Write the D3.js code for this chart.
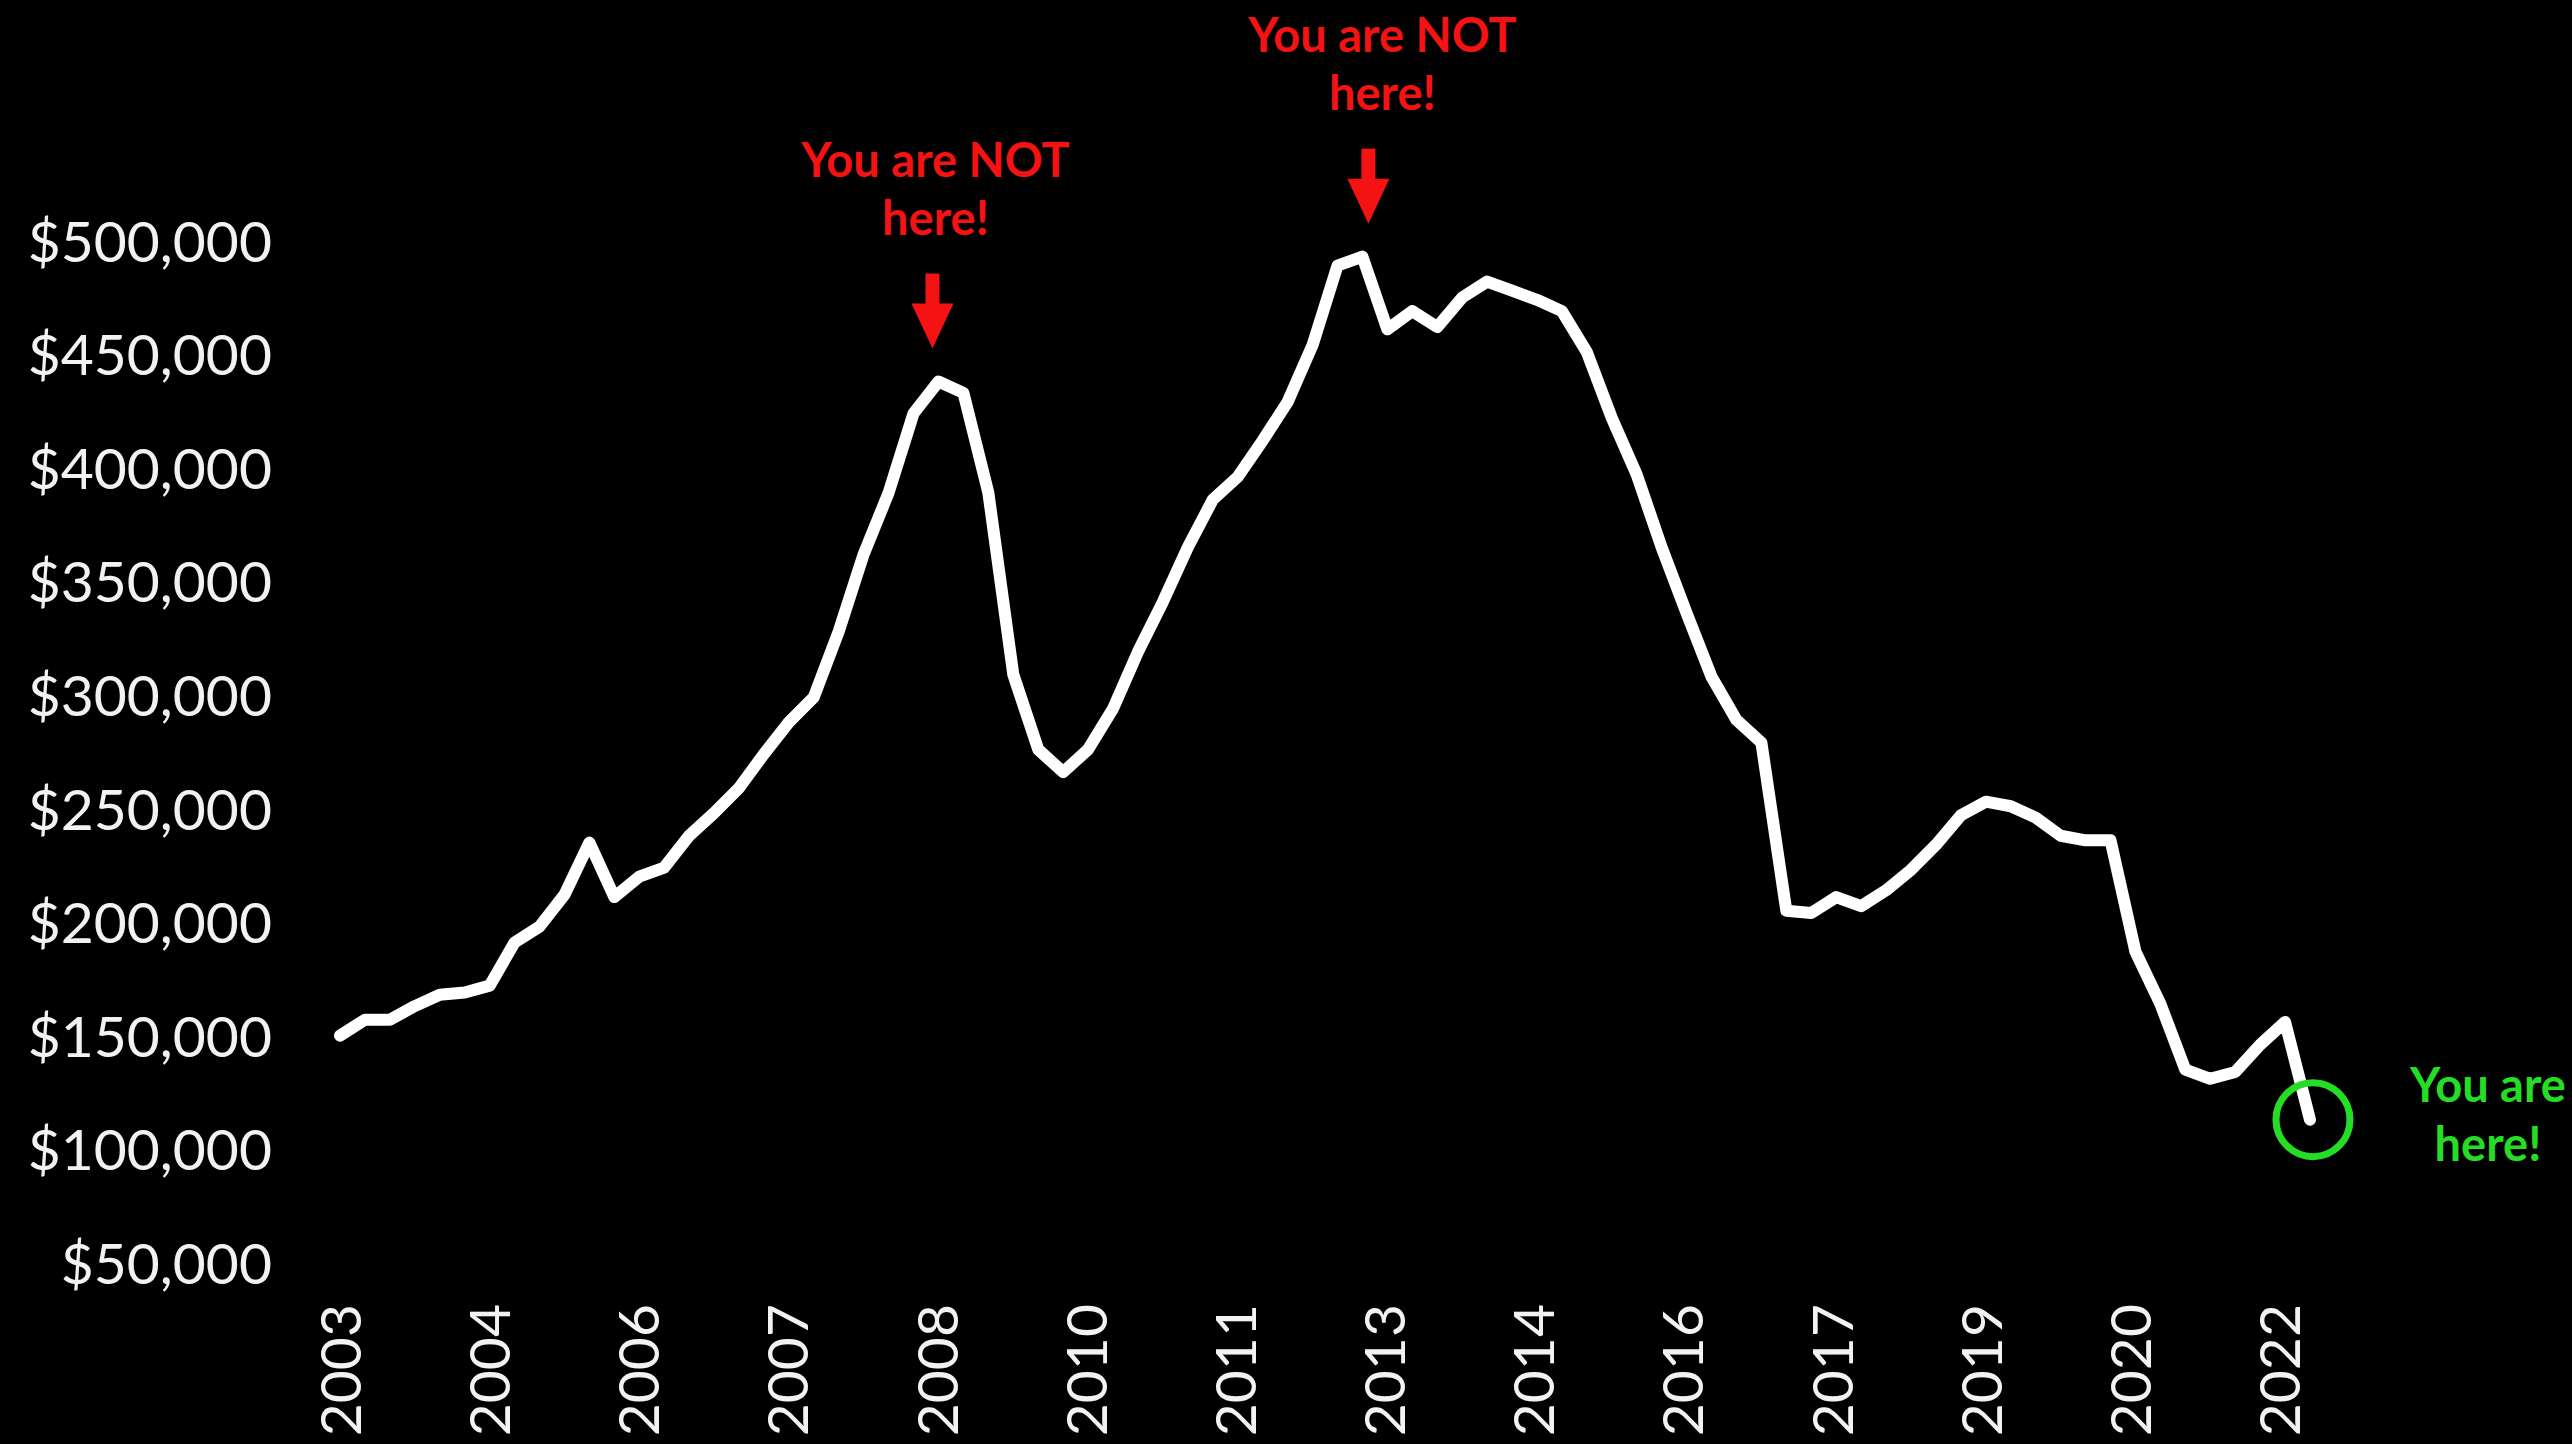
<!DOCTYPE html>
<html>
<head>
<meta charset="utf-8">
<script src="https://cdn.jsdelivr.net/npm/d3@7"></script>
<style>
  body { margin: 0; background: #000; }
  svg { display: block; }
</style>
</head>
<body>
<svg></svg>
<script>
// price for each period
const prices = [
  151000, 158000, 158000, 164000, 169000, 170000, 173000, 192000, 199000, 213000,
  236000, 212000, 221000, 225000, 239000, 249000, 260000, 275000, 289000, 300000,
  329000, 363000, 390000, 425000, 439000, 434000, 390000, 310000, 277000, 267000,
  277000, 295000, 320000, 342000, 366000, 387000, 397000, 413000, 430000, 455000,
  490000, 494000, 462000, 470000, 463000, 476000, 483000, 479000, 475000, 470000,
  452000, 423000, 398000, 366000, 337000, 309000, 290000, 280000, 206000, 205000,
  212000, 208000, 215000, 224000, 235000, 248000, 254000, 252000, 247000, 239000,
  237000, 237000, 188000, 165000, 136000, 132000, 135000, 147000, 157000, 114000
];

// year labels along the bottom, evenly spaced
const tickLabels = ["2003", "2004", "2006", "2007", "2008", "2010", "2011",
  "2013", "2014", "2016", "2017", "2019", "2020", "2022"];
const yTicks = [50000, 100000, 150000, 200000, 250000, 300000, 350000, 400000, 450000, 500000];

// callouts
const notHerePoints = [24, 41];
const notHereText = ["You are NOT", "here!"];
const hereText = ["You are", "here!"];

const w = 2572;
const h = 1444;
const margin = { top: 243, bottom: 179, left: 340, right: 262 };

const svg = d3.select("svg").attr("width", w).attr("height", h)
  .style("background", "#000");

const xScale = d3.scalePoint()
  .domain(d3.range(prices.length))
  .range([margin.left, w - margin.right]);

// labels sit on their own even spacing (last one a bit left of its point)
const labelScale = d3.scalePoint()
  .domain(tickLabels)
  .range([margin.left, 2279]);

const yScale = d3.scaleLinear()
  .domain([50000, 500000])
  .range([h - margin.bottom, margin.top]);

// y axis, labels only
const yAxis = svg.append("g")
  .attr("transform", "translate(282, 0)")
  .call(d3.axisLeft(yScale)
    .tickValues(yTicks)
    .tickFormat(d3.format("$,"))
    .tickSize(0)
    .tickPadding(10));
yAxis.select(".domain").remove();
yAxis.selectAll("text")
  .attr("fill", "#f2f2f2")
  .style("font-family", "Lato, sans-serif")
  .style("font-size", "57px");

// x axis, rotated year labels
const xAxis = svg.append("g")
  .attr("transform", "translate(0, 1304)")
  .call(d3.axisBottom(labelScale).tickSize(0));
xAxis.select(".domain").remove();
xAxis.selectAll("text")
  .attr("transform", "rotate(-90)")
  .attr("x", 0)
  .attr("y", 0)
  .attr("dy", "0.36em")
  .attr("text-anchor", "end")
  .attr("fill", "#f2f2f2")
  .style("font-family", "Lato, sans-serif")
  .style("font-size", "57px");

// the price line
const line = d3.line()
  .x((d, i) => xScale(i))
  .y(d => yScale(d));

svg.append("path")
  .datum(prices)
  .attr("d", line)
  .attr("fill", "none")
  .attr("stroke", "#fff")
  .attr("stroke-width", 12)
  .attr("stroke-linejoin", "round")
  .attr("stroke-linecap", "round");

// red arrows over the two peaks (hand placed, so nudged a little)
const red = "#f41212";
const gap = 33;
const shaftLen = 30;
const headLen = 45;
const arrowNudge = [-6, 6];
const textNudge = [3, 14];

notHerePoints.forEach((p, k) => {
  const x = xScale(p) + arrowNudge[k];
  const tip = yScale(prices[p]) - gap;
  const top = tip - headLen - shaftLen;
  const g = svg.append("g");
  g.append("rect")
    .attr("x", x - 7)
    .attr("y", top)
    .attr("width", 14)
    .attr("height", shaftLen + 2)
    .attr("fill", red);
  g.append("path")
    .attr("d", `M${x - 21},${tip - headLen} L${x + 21},${tip - headLen} L${x},${tip} Z`)
    .attr("fill", red);
  g.selectAll("text")
    .data(notHereText)
    .enter()
    .append("text")
    .attr("x", x + textNudge[k])
    .attr("y", (d, i) => top - 39 - (1 - i) * 58)
    .attr("text-anchor", "middle")
    .attr("fill", red)
    .style("font-family", "Lato, sans-serif")
    .style("font-weight", "bold")
    .style("font-size", "47px")
    .text(d => d);
});

// green circle on the latest value
const green = "#25dd25";
const last = prices.length - 1;
const cx = xScale(last) + 3;
const cy = yScale(prices[last]);

svg.append("circle")
  .attr("cx", cx)
  .attr("cy", cy)
  .attr("r", 37)
  .attr("fill", "none")
  .attr("stroke", green)
  .attr("stroke-width", 7);

svg.selectAll(".here")
  .data(hereText)
  .enter()
  .append("text")
  .attr("class", "here")
  .attr("x", cx + 175)
  .attr("y", (d, i) => cy - 18 + i * 59)
  .attr("text-anchor", "middle")
  .attr("fill", green)
  .style("font-family", "Lato, sans-serif")
  .style("font-weight", "bold")
  .style("font-size", "47px")
  .text(d => d);
</script>
</body>
</html>
